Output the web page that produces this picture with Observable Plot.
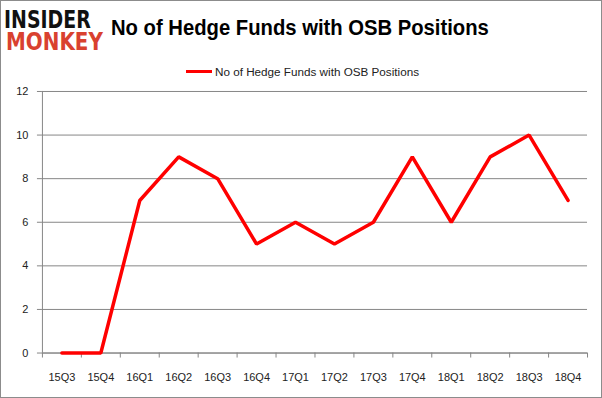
<!DOCTYPE html>
<html><head><meta charset="utf-8">
<script src="https://cdn.jsdelivr.net/npm/d3@7"></script>
<script src="https://cdn.jsdelivr.net/npm/@observablehq/plot@0.6"></script>
<style>
body{margin:0;background:#fff;}
#wrap{position:relative;width:600px;height:396px;border:1px solid #8c8c8c;font-family:"Liberation Sans",Arial,sans-serif;overflow:hidden;}
#logo{position:absolute;left:3px;top:8px;font-family:"DejaVu Sans";font-weight:900;font-size:24.6px;line-height:22px;white-space:nowrap;}
#logo span{display:block;transform-origin:left;}
#l1{color:#111;transform:scaleX(0.77);}
#l2{color:#d9412f;transform:scaleX(0.81);margin-left:2px;}
#title{position:absolute;left:110px;top:14px;font-size:22px;font-weight:bold;color:#000;white-space:nowrap;transform:scaleX(0.92);transform-origin:left;}
#legend{position:absolute;left:185px;top:64px;font-size:11.7px;color:#222;white-space:nowrap;display:flex;align-items:center;}
#legend span.sw{display:inline-block;width:26px;height:3px;background:#ff0000;margin-right:3px;}
#chart{position:absolute;left:-1px;top:79px;}
</style></head>
<body>
<div id="wrap">
<div id="logo"><span id="l1">INSIDER</span><span id="l2">MONKEY</span></div>
<div id="title">No of Hedge Funds with OSB Positions</div>
<div id="legend"><span class="sw"></span><span id="legtext">No of Hedge Funds with OSB Positions</span></div>
<div id="chart"></div>
</div>
<script>
const quarters = ["15Q3","15Q4","16Q1","16Q2","16Q3","16Q4","17Q1","17Q2","17Q3","17Q4","18Q1","18Q2","18Q3","18Q4"];
const funds = [0,0,7,9,8,5,6,5,6,9,6,9,10,7];
const yTicks = [0,2,4,6,8,10,12];

const data = quarters.map((q,i)=>({i, q, v: funds[i]}));
const idx = quarters.map((q,i)=>i);
const bounds = d3.range(quarters.length+1).map(i=>i-0.5);

const plot = Plot.plot({
  width: 602, height: 319,
  marginLeft: 42, marginRight: 14, marginTop: 11, marginBottom: 46,
  style: {fontFamily: "Liberation Sans, Arial, sans-serif", fontSize: "11px", color: "#222", background: "transparent"},
  x: {type: "linear", domain: [-0.5, quarters.length-0.5]},
  y: {domain: [0,12]},
  marks: [
    Plot.gridY(yTicks, {stroke: "#868686", strokeOpacity: 1}),
    Plot.ruleX([-0.5], {stroke: "#868686"}),
    Plot.ruleY([0], {stroke: "#868686"}),
    Plot.axisY(yTicks, {tickSize: 5, tickPadding: 9, stroke: "#868686", fontSize: 11, label: null}),
    Plot.axisX(bounds, {tickSize: 5, tickFormat: () => "", stroke: "#868686", label: null}),
    Plot.axisX(idx, {tickSize: 0, tickPadding: 20, tickFormat: i => quarters[i], fontSize: 11, label: null}),
    Plot.line(data, {x: "i", y: "v", stroke: "#ff0000", strokeWidth: 3.5, strokeLinejoin: "miter"})
  ]
});
document.getElementById("chart").appendChild(plot);
</script>
</body></html>
